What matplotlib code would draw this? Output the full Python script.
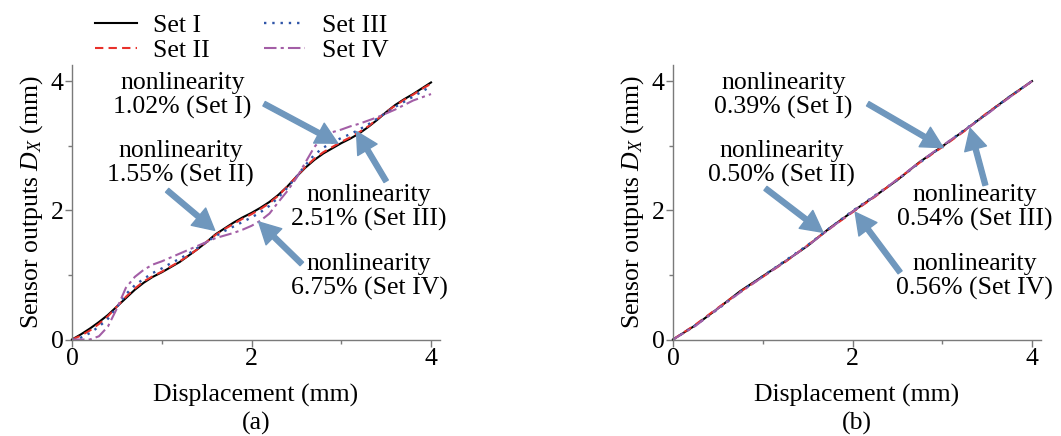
import matplotlib
matplotlib.use("Agg")
import matplotlib.pyplot as plt

plt.rcParams['font.family'] = ['Liberation Serif', 'DejaVu Serif']
plt.rcParams['mathtext.fontset'] = 'custom'
plt.rcParams['mathtext.rm'] = 'Liberation Serif'
plt.rcParams['mathtext.it'] = 'Liberation Serif:italic'

# ---------------- data ----------------
disp_a = [0.0, 0.1, 0.2, 0.3, 0.4, 0.5, 0.6, 0.7, 0.8, 0.9, 1.0, 1.1, 1.2, 1.3, 1.4,
          1.5, 1.6, 1.7, 1.8, 1.9, 2.0, 2.1, 2.2, 2.3, 2.4, 2.5, 2.6, 2.7, 2.8, 2.9,
          3.0, 3.1, 3.2, 3.3, 3.4, 3.5, 3.6, 3.7, 3.8, 3.9, 4.0]
a_set1 = [0, 0.08, 0.17, 0.27, 0.38, 0.51, 0.64, 0.77, 0.88, 0.97, 1.04, 1.12, 1.20, 1.30, 1.40,
          1.51, 1.63, 1.72, 1.81, 1.89, 1.96, 2.04, 2.13, 2.24, 2.37, 2.52, 2.66, 2.78, 2.88, 2.96,
          3.04, 3.11, 3.19, 3.29, 3.40, 3.52, 3.63, 3.72, 3.80, 3.89, 3.98]
a_set2 = [0, 0.06, 0.14, 0.24, 0.36, 0.51, 0.66, 0.79, 0.90, 0.98, 1.05, 1.13, 1.21, 1.30, 1.40,
          1.51, 1.62, 1.71, 1.79, 1.87, 1.94, 2.02, 2.11, 2.23, 2.37, 2.52, 2.67, 2.80, 2.90, 2.98,
          3.06, 3.13, 3.21, 3.30, 3.41, 3.52, 3.62, 3.71, 3.79, 3.88, 3.96]
a_set3 = [0, 0.03, 0.10, 0.20, 0.32, 0.50, 0.70, 0.84, 0.94, 1.03, 1.10, 1.18, 1.25, 1.33, 1.42,
          1.51, 1.60, 1.68, 1.75, 1.82, 1.89, 1.97, 2.07, 2.20, 2.35, 2.52, 2.70, 2.86, 2.97, 3.05,
          3.12, 3.18, 3.25, 3.33, 3.42, 3.51, 3.60, 3.68, 3.76, 3.84, 3.92]
a_set4 = [0, 0, 0, 0.05, 0.20, 0.48, 0.80, 0.97, 1.08, 1.16, 1.21, 1.27, 1.33, 1.39, 1.45,
          1.51, 1.57, 1.61, 1.65, 1.70, 1.76, 1.84, 1.95, 2.13, 2.30, 2.50, 2.74, 2.98, 3.14, 3.21,
          3.25, 3.30, 3.34, 3.39, 3.44, 3.50, 3.56, 3.63, 3.70, 3.75, 3.80]

disp_b = [0.0, 0.25, 0.5, 0.75, 1.0, 1.25, 1.5, 1.75, 2.0, 2.25, 2.5, 2.75, 3.0, 3.25, 3.5, 3.75, 4.0]
b_set1 = [0, 0.22, 0.48, 0.75, 0.98, 1.21, 1.45, 1.73, 1.98, 2.22, 2.47, 2.75, 2.99, 3.24, 3.50, 3.76, 4.0]
b_set2 = [0, 0.23, 0.49, 0.74, 0.97, 1.20, 1.46, 1.72, 1.97, 2.21, 2.48, 2.74, 2.98, 3.23, 3.51, 3.75, 4.0]
b_set3 = [0, 0.22, 0.47, 0.74, 0.98, 1.22, 1.46, 1.73, 1.99, 2.23, 2.47, 2.74, 2.99, 3.25, 3.50, 3.76, 4.0]
b_set4 = [0, 0.21, 0.48, 0.73, 0.97, 1.21, 1.45, 1.72, 1.98, 2.22, 2.48, 2.75, 3.00, 3.24, 3.49, 3.75, 4.0]

set_labels = ['Set I', 'Set II', 'Set III', 'Set IV']
notes_a = ['nonlinearity\n1.02% (Set I)', 'nonlinearity\n1.55% (Set II)',
           'nonlinearity\n2.51% (Set III)', 'nonlinearity\n6.75% (Set IV)']
notes_b = ['nonlinearity\n0.39% (Set I)', 'nonlinearity\n0.50% (Set II)',
           'nonlinearity\n0.54% (Set III)', 'nonlinearity\n0.56% (Set IV)']
panel_tags = ['(a)', '(b)']

# ---------------- styles ----------------
colors = ['black', '#e8312b', '#2f55a8', '#a35ea6']
styles = ['-', (0, (4, 2.5)), (0, (1, 2.5)), (0, (6, 2, 1.5, 2))]
widths = [1.5, 1.5, 1.7, 1.5]
arrow_col = '#6f97bd'

# annotation positions (data coords): text center, arrow tail, arrow tip
pos_a = [((1.23, 3.78), (2.14, 3.65), (2.96, 3.04)),
         ((1.21, 2.73), (1.06, 2.31), (1.59, 1.69)),
         ((3.31, 2.05), (3.50, 2.45), (3.17, 3.22)),
         ((3.31, 0.98), (2.56, 1.17), (2.08, 1.82))]
pos_b = [((1.23, 3.78), (2.17, 3.65), (3.01, 2.97)),
         ((1.21, 2.73), (1.03, 2.34), (1.67, 1.66)),
         ((3.36, 2.05), (3.48, 2.39), (3.31, 3.27)),
         ((3.36, 0.98), (2.53, 1.04), (2.03, 1.97))]

FS = 18.5

fig = plt.figure(figsize=(10.61, 4.36), dpi=100)
W, H = 1061, 436
axA = fig.add_axes([72 / W, (H - 339.5) / H, 368 / W, 274.5 / H])
axB = fig.add_axes([673 / W, (H - 339.5) / H, 368 / W, 274.5 / H])

def style_axes(ax):
    ax.set_xlim(0, 4.1)
    ax.set_ylim(0, 4.25)
    for s in ['top', 'right']:
        ax.spines[s].set_visible(False)
    for s in ['left', 'bottom']:
        ax.spines[s].set_color('#7a7a7a')
        ax.spines[s].set_linewidth(1.0)
    ax.set_xticks([0, 2, 4])
    ax.set_yticks([0, 2, 4])
    ax.set_xticks([1, 3], minor=True)
    ax.set_yticks([1, 3], minor=True)
    ax.tick_params(which='major', direction='out', length=5, width=1.0, color='#7a7a7a',
                   labelsize=FS, pad=1)
    ax.tick_params(which='minor', direction='out', length=3, width=1.0, color='#7a7a7a')
    ax.set_xlabel('Displacement (mm)', fontsize=FS, labelpad=10)
    ax.set_ylabel('Sensor outputs $D_X$ (mm)', fontsize=FS, labelpad=4)

handles = []
for ax, xs, series, notes, pos, tag in [
        (axA, disp_a, [a_set1, a_set2, a_set3, a_set4], notes_a, pos_a, panel_tags[0]),
        (axB, disp_b, [b_set1, b_set2, b_set3, b_set4], notes_b, pos_b, panel_tags[1])]:
    style_axes(ax)
    hs = []
    for ys, c, ls, lw, lab in zip(series, colors, styles, widths, set_labels):
        h, = ax.plot(xs, ys, color=c, linestyle=ls, linewidth=lw, label=lab, clip_on=False)
        hs.append(h)
    if not handles:
        handles = hs
    for txt, (tc, tail, tip) in zip(notes, pos):
        ax.text(tc[0], tc[1], txt, ha='center', va='center', fontsize=FS,
                linespacing=1.1, zorder=5)
        ax.annotate('', xy=tip, xytext=tail,
                    arrowprops=dict(arrowstyle='simple,head_length=0.85,head_width=0.9,tail_width=0.2',
                                    color=arrow_col, shrinkA=0, shrinkB=0, mutation_scale=18),
                    zorder=6)
    ax.text(0.5, (339.5 - 423) / 274.5, tag, transform=ax.transAxes, ha='center', va='center',
            fontsize=FS)

leg = fig.legend(handles, set_labels, ncol=2, frameon=False, fontsize=FS,
                 loc='center', bbox_to_anchor=(242 / W, (H - 38) / H),
                 handlelength=1.6, columnspacing=2.1, labelspacing=0.05, handletextpad=0.65,
                 borderpad=0)

fig.savefig('out.png', dpi=100)
